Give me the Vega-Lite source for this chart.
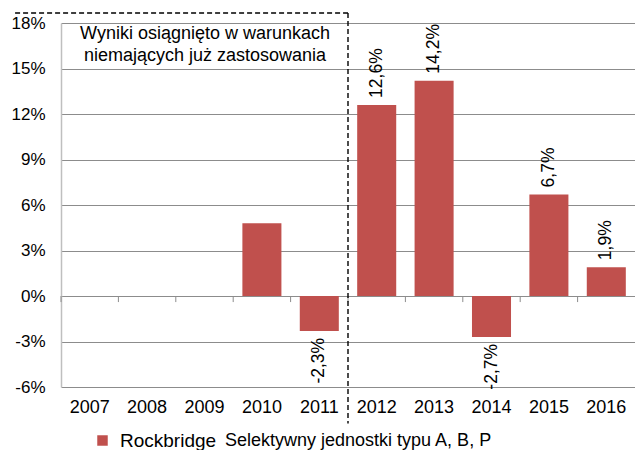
{
  "$schema": "https://vega.github.io/schema/vega-lite/v6.json",
  "width": 574,
  "height": 364,
  "autosize": {"type": "none"},
  "padding": {"left": 61, "top": 23, "right": 0, "bottom": 63},
  "background": "white",
  "config": {
    "view": {"stroke": null},
    "font": "Liberation Sans",
    "axis": {"labelFont": "Liberation Sans", "labelColor": "#000000"}
  },
  "datasets": {
    "returns": [
      {"year": "2007", "value": null, "label": "", "series": "Rockbridge"},
      {"year": "2008", "value": null, "label": "", "series": "Rockbridge"},
      {"year": "2009", "value": null, "label": "", "series": "Rockbridge"},
      {"year": "2010", "value": 4.8, "label": "", "series": "Rockbridge"},
      {"year": "2011", "value": -2.3, "label": "-2,3%", "series": "Rockbridge"},
      {"year": "2012", "value": 12.6, "label": "12,6%", "series": "Rockbridge"},
      {"year": "2013", "value": 14.2, "label": "14,2%", "series": "Rockbridge"},
      {"year": "2014", "value": -2.7, "label": "-2,7%", "series": "Rockbridge"},
      {"year": "2015", "value": 6.7, "label": "6,7%", "series": "Rockbridge"},
      {"year": "2016", "value": 1.9, "label": "1,9%", "series": "Rockbridge"}
    ],
    "one": [{}]
  },
  "layer": [
    {
      "data": {"name": "returns"},
      "mark": {"type": "bar", "width": {"band": 0.68}},
      "encoding": {
        "x": {
          "field": "year", "type": "ordinal",
          "scale": {"paddingInner": 0, "paddingOuter": 0},
          "axis": {"title": null, "labelAngle": 0, "domain": false, "ticks": false, "grid": false, "labelFontSize": 18, "labelPadding": 11, "labelBaseline": "top"}
        },
        "y": {
          "field": "value", "type": "quantitative",
          "scale": {"domain": [-6, 18], "nice": false, "zero": false},
          "axis": {
            "title": null,
            "values": [-6, -3, 0, 3, 6, 9, 12, 15, 18],
            "labelExpr": "datum.value + '%'",
            "labelFontSize": 17,
            "labelPadding": 16,
            "ticks": false,
            "domain": true,
            "domainColor": "#BFBFBF",
            "domainWidth": 1.5,
            "grid": true,
            "gridColor": "#8C8C8C",
            "gridWidth": 1
          }
        },
        "color": {
          "field": "series", "type": "nominal",
          "scale": {"range": ["#C0504D"]},
          "legend": {
            "title": "Selektywny jednostki typu A, B, P",
            "titleOrient": "right",
            "titleFontSize": 18,
            "titleFontWeight": "normal",
            "titleFont": "Liberation Sans",
            "titleColor": "#000000",
            "titlePadding": 9,
            "titleBaseline": "middle",
            "titleLimit": 0,
            "orient": "none", "legendX": 32, "legendY": 408,
            "symbolType": "square", "symbolSize": 110,
            "labelFontSize": 19, "labelFont": "Liberation Sans", "labelColor": "#000000",
            "labelOffset": 8,
            "symbolStrokeWidth": 0, "labelLimit": 0, "padding": 0
          }
        }
      }
    },
    {
      "data": {"name": "returns"},
      "mark": {"type": "rule", "color": "#8C8C8C", "strokeWidth": 1},
      "encoding": {
        "x": {"field": "year", "type": "ordinal", "bandPosition": 0},
        "y": {"datum": 0},
        "y2": {"datum": -0.4}
      }
    },
    {
      "data": {"name": "returns"},
      "transform": [{"filter": "datum.label != '' && datum.value > 0"}],
      "mark": {"type": "text", "angle": 270, "align": "left", "baseline": "middle", "dx": 7, "fontSize": 17.5, "color": "#000000"},
      "encoding": {
        "x": {"field": "year", "type": "ordinal"},
        "y": {"field": "value", "type": "quantitative"},
        "text": {"field": "label"}
      }
    },
    {
      "data": {"name": "returns"},
      "transform": [{"filter": "datum.label != '' && datum.value < 0"}],
      "mark": {"type": "text", "angle": 270, "align": "right", "baseline": "middle", "dx": -7, "fontSize": 17.5, "color": "#000000"},
      "encoding": {
        "x": {"field": "year", "type": "ordinal"},
        "y": {"field": "value", "type": "quantitative"},
        "text": {"field": "label"}
      }
    },
    {
      "data": {"name": "one"},
      "mark": {"type": "rule", "color": "#000000", "strokeWidth": 1.4, "strokeDash": [5, 3]},
      "encoding": {
        "x": {"datum": "2012", "bandPosition": 0},
        "y": {"datum": 18.66},
        "y2": {"datum": -8.4}
      }
    },
    {
      "data": {"name": "one"},
      "mark": {"type": "rule", "color": "#000000", "strokeWidth": 1.4, "strokeDash": [5, 3]},
      "encoding": {
        "x": {"datum": "2007", "bandPosition": -0.8},
        "x2": {"datum": "2012", "bandPosition": 0},
        "y": {"datum": 18.66}
      }
    },
    {
      "data": {"name": "one"},
      "mark": {"type": "text", "align": "center", "baseline": "middle", "fontSize": 18, "lineHeight": 22, "color": "#000000"},
      "encoding": {
        "x": {"datum": "2009", "bandPosition": 0.51},
        "y": {"datum": 17.27},
        "text": {"value": ["Wyniki osiągnięto w warunkach", "niemających już zastosowania"]}
      }
    }
  ]
}
